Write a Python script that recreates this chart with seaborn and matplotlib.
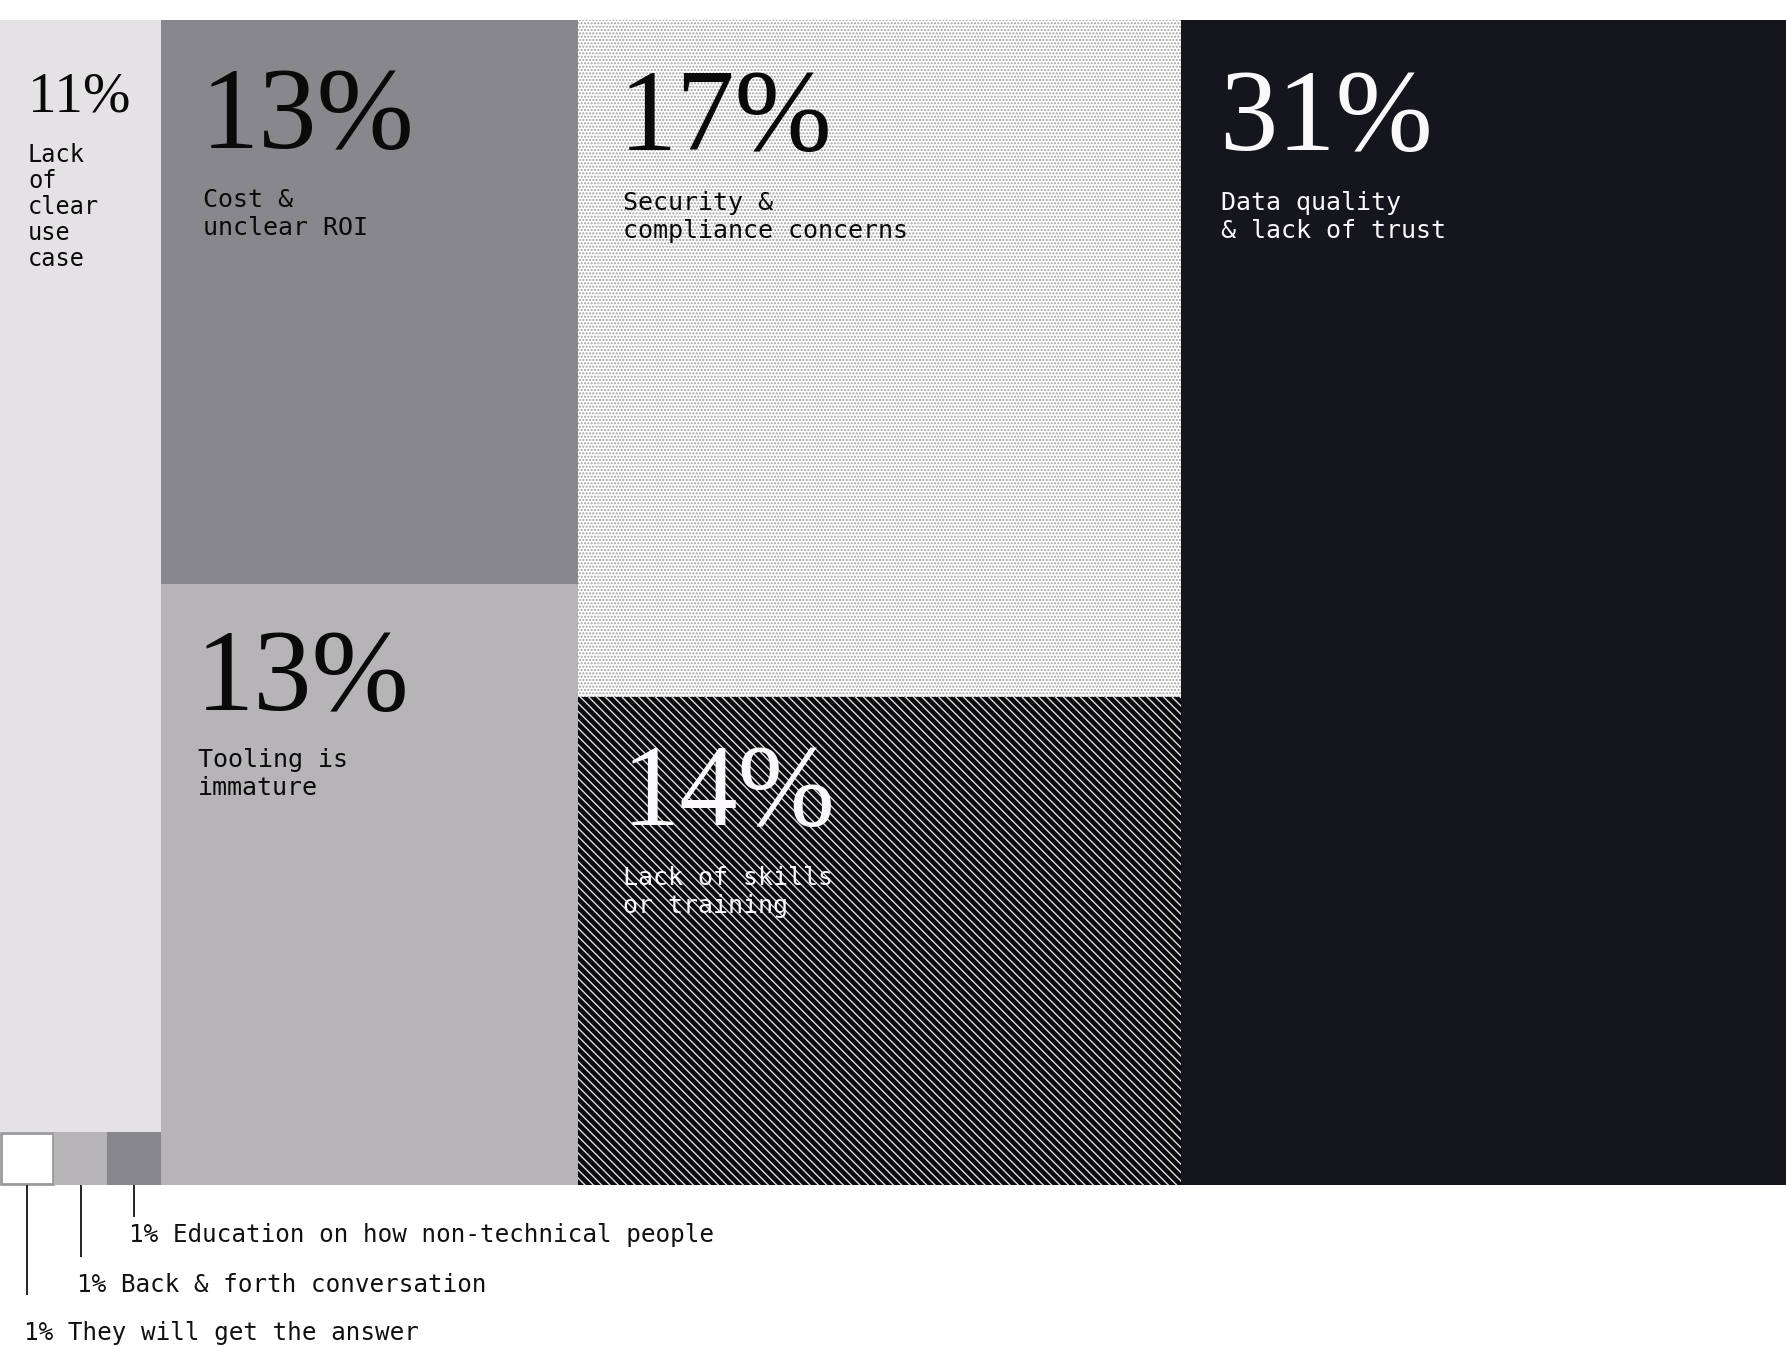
import matplotlib
matplotlib.use("Agg")
import matplotlib.pyplot as plt
from matplotlib.patches import Rectangle
import seaborn as sns

# ---------------- data ----------------
categories = [
    "Lack\nof\nclear\nuse\ncase",
    "Cost &\nunclear ROI",
    "Tooling is\nimmature",
    "Security &\ncompliance concerns",
    "Lack of skills\nor training",
    "Data quality\n& lack of trust",
]
values = [11, 13, 13, 17, 14, 31]
minor_labels = [
    "They will get the answer",
    "Back & forth conversation",
    "Education on how non-technical people",
]
minor_values = [1, 1, 1]

# ---------------- styling / layout ----------------
sns.set_theme(style="white")
plt.rcParams["hatch.linewidth"] = 1.0

W, H = 1786, 1347
fig = plt.figure(figsize=(W / 100, H / 100), dpi=100)
ax = fig.add_axes([0, 0, 1, 1])
ax.set_xlim(0, W)
ax.set_ylim(H, 0)
ax.axis("off")

# column boundaries and splits (pixel layout)
top, bottom = 20, 1185
xcols = [0, 161, 578, 1181, W]
split2, split3, col1_bottom = 584, 697, 1132

rects = [
    (xcols[0], top, xcols[1], col1_bottom),
    (xcols[1], top, xcols[2], split2),
    (xcols[1], split2, xcols[2], bottom),
    (xcols[2], top, xcols[3], split3),
    (xcols[2], split3, xcols[3], bottom),
    (xcols[3], top, xcols[4], bottom),
]
faces = ["#e4e2e4", "#88878c", "#b6b4b7", "#ffffff", "#0a0a0c", "#15151d"]
hatches = [None, None, None, ".....", "\\\\\\\\", None]
hatch_cols = [None, None, None, "#a0a0a0", "#dedede", None]
txt_cols = ["#0a0a0a", "#0a0a0a", "#0a0a0a", "#0a0a0a", "#faf8fa", "#faf8fa"]

# text anchors (pixel offsets from block corner)
num_pos = [(28, 112), (201, 148), (196, 710), (619, 150), (622, 825), (1219, 150)]
num_size = [41, 84, 84, 84, 84, 84]
lab_pos = [(28, 162), (203, 207), (198, 767), (623, 210), (623, 885), (1221, 210)]
lab_size = [17, 18, 18, 18, 18, 18]
lab_step = [26, 28, 28, 28, 28, 28]

serif = ["Liberation Serif", "DejaVu Serif"]
mono = ["DejaVu Sans Mono", "Liberation Mono"]

for i, (x0, y0, x1, y1) in enumerate(rects):
    kw = dict(facecolor=faces[i], linewidth=0)
    if hatches[i]:
        kw.update(hatch=hatches[i], edgecolor=hatch_cols[i])
    else:
        kw.update(edgecolor=faces[i])
    ax.add_patch(Rectangle((x0, y0), x1 - x0, y1 - y0, **kw))
    nx, ny = num_pos[i]
    ax.text(nx, ny, f"{values[i]}%", fontsize=num_size[i], family=serif,
            color=txt_cols[i], va="baseline", ha="left")
    lx, ly = lab_pos[i]
    for j, line in enumerate(categories[i].split("\n")):
        ax.text(lx, ly + j * lab_step[i], line, fontsize=lab_size[i], family=mono,
                color=txt_cols[i], va="baseline", ha="left")

# small 1% squares
sq_w = (xcols[1] - xcols[0]) / 3
sq_faces = ["#ffffff", "#b6b4b7", "#88878c"]
sq_edges = ["#9a9a9c", "#b6b4b7", "#88878c"]
line_ends = [1295, 1257, 1217]
text_base = [1340, 1292, 1242]
text_x = [24, 77, 129]
for k in range(3):
    x0 = xcols[0] + k * sq_w
    lw = 2 if k == 0 else 0
    ax.add_patch(Rectangle((x0 + (1 if k == 0 else 0), col1_bottom + (1 if k == 0 else 0)),
                           sq_w - (2 if k == 0 else 0), bottom - col1_bottom - (2 if k == 0 else 0),
                           facecolor=sq_faces[k], edgecolor=sq_edges[k], linewidth=lw))
    cx = x0 + sq_w / 2
    ax.plot([cx, cx], [bottom, line_ends[k]], color="#111111", lw=1.3,
            solid_capstyle="butt")
    ax.text(text_x[k], text_base[k], f"{minor_values[k]}% {minor_labels[k]}",
            fontsize=17.5, family=mono, color="#111111", va="baseline", ha="left")

fig.savefig("out.png", dpi=100, facecolor="white")
